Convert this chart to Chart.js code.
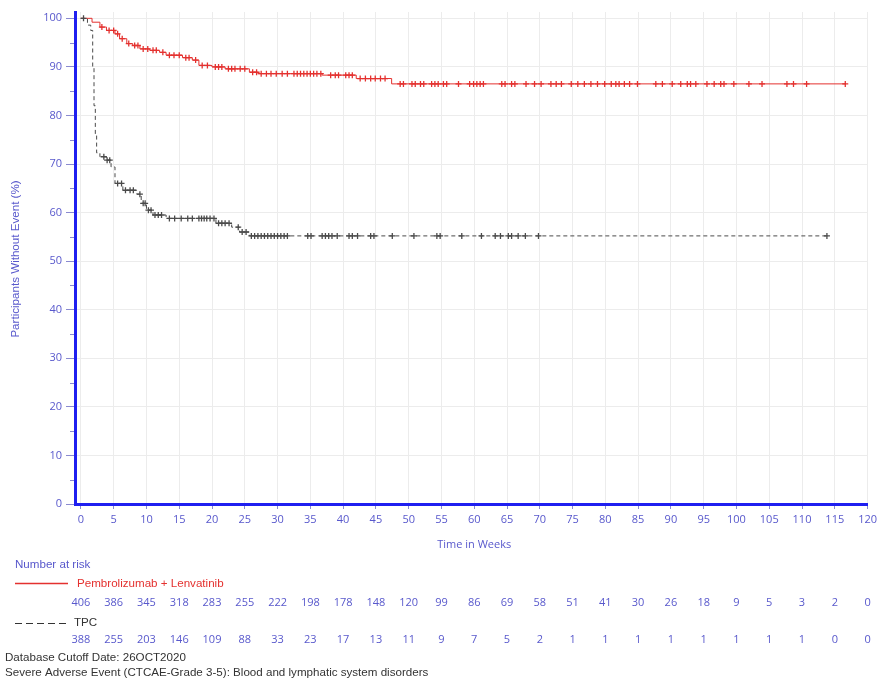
<!DOCTYPE html>
<html><head><meta charset="utf-8">
<script src="https://cdn.jsdelivr.net/npm/chart.js@4.4.1/dist/chart.umd.min.js"></script>
<style>html,body{margin:0;padding:0;background:#fff}#wrap{width:881px;height:680px;position:relative}</style>
</head><body><div id="wrap"><canvas id="c" width="881" height="680"></canvas></div>
<script>
// Kaplan-Meier step points (week, % without event)
const plTimes = [0, 1.7, 2.9, 3.9, 5.2, 5.9, 7.0, 7.9, 9.0, 10.5, 12.0, 13.0, 15.5, 17.0, 18.0, 20.0, 22.0, 25.7, 27.0, 36.8, 42.0, 47.4, 116.6];
const plSurv  = [100, 99.2, 98.2, 97.5, 96.8, 95.8, 94.8, 94.4, 93.7, 93.4, 93.0, 92.4, 91.9, 91.4, 90.3, 90.0, 89.6, 88.9, 88.6, 88.3, 87.6, 86.5, 86.5];
const tpcTimes = [0, 1.0, 1.5, 1.8, 2.0, 2.2, 2.4, 2.9, 3.9, 4.6, 5.2, 6.4, 8.5, 9.2, 10.0, 11.0, 13.0, 20.6, 23.0, 24.2, 25.7, 113.8];
const tpcSurv  = [100, 98.6, 97.5, 90, 82, 76, 72.3, 71.5, 70.8, 69.4, 66.0, 64.6, 63.8, 61.9, 60.5, 59.5, 58.8, 57.8, 57.0, 56.0, 55.2, 55.2];
// Censoring times (weeks)
const plCensor = [3.2, 4.3, 5.0, 5.6, 6.3, 7.3, 8.2, 8.7, 9.5, 10.2, 11.0, 11.5, 12.5, 13.5, 14.2, 15.0, 16.0, 16.5, 17.5, 18.5, 19.3, 20.5, 21.0, 21.5, 22.5, 23.0, 23.5, 24.3, 25.0, 26.2, 26.8, 27.5, 28.3, 29.0, 29.8, 30.7, 31.5, 32.5, 33.0, 33.5, 34.0, 34.5, 35.0, 35.5, 36.0, 36.6, 38.1, 38.8, 39.3, 40.4, 40.9, 41.4, 42.6, 43.4, 44.2, 44.9, 45.7, 46.4, 48.7, 49.2, 50.5, 51.0, 51.8, 52.3, 53.5, 54.0, 54.5, 55.3, 55.8, 57.6, 59.3, 59.9, 60.4, 60.9, 61.4, 64.2, 64.7, 65.7, 66.2, 67.9, 69.2, 70.2, 71.7, 72.5, 73.3, 74.8, 75.8, 76.8, 77.8, 78.8, 79.9, 80.9, 81.6, 82.1, 82.9, 83.7, 84.9, 87.7, 88.7, 90.2, 91.5, 92.5, 93.0, 93.8, 95.5, 96.6, 97.6, 98.1, 99.6, 101.9, 103.9, 107.7, 108.7, 110.7, 116.6];
const tpcCensor = [0.4, 3.5, 4.0, 4.4, 5.6, 6.2, 6.8, 7.5, 8.0, 9.0, 9.5, 9.8, 10.3, 10.7, 11.3, 11.8, 12.3, 13.5, 14.3, 15.3, 16.3, 17.0, 18.0, 18.4, 18.8, 19.2, 19.7, 20.3, 21.0, 21.5, 22.0, 22.6, 24.0, 24.6, 25.2, 26.0, 26.5, 27.0, 27.5, 28.0, 28.5, 29.0, 29.5, 30.0, 30.5, 31.0, 31.5, 34.6, 35.1, 36.8, 37.3, 37.8, 38.3, 39.1, 40.9, 41.4, 42.2, 44.2, 44.7, 47.5, 50.8, 54.3, 54.8, 58.1, 61.1, 63.2, 64.0, 65.2, 65.7, 66.7, 67.8, 69.8, 113.8];
// Axis ticks
const xTickValues = [0,5,10,15,20,25,30,35,40,45,50,55,60,65,70,75,80,85,90,95,100,105,110,115,120];
const yTickValues = [0,10,20,30,40,50,60,70,80,90,100];
// Number at risk
const riskPL  = [406,386,345,318,283,255,222,198,178,148,120,99,86,69,58,51,41,30,26,18,9,5,3,2,0];
const riskTPC = [388,255,203,146,109,88,33,23,17,13,11,9,7,5,2,1,1,1,1,1,1,1,1,0,0];
// Labels
const seriesNames = ['Pembrolizumab + Lenvatinib', 'TPC'];
const xTitle = 'Time in Weeks';
const yTitle = 'Participants Without Event (%)';
const riskTitle = 'Number at risk';
const footer = ['Database Cutoff Date: 26OCT2020', 'Severe Adverse Event (CTCAE-Grade 3-5): Blood and lymphatic system disorders'];

const RED = '#e4312f', BLACK = '#4a4a4a', BLUE = '#1f1ff0', TXT = '#5858cc';
const FONT = '"Open Sans", "DejaVu Sans", sans-serif';
const FONT2 = '"Liberation Sans", Arial, sans-serif';
const F2 = '11.6px ';

function stepPts(T, S) { return T.map((t, i) => ({x: t, y: S[i]})); }
function survAt(T, S, t) { let v = S[0]; for (let i = 0; i < T.length; i++) { if (T[i] <= t) v = S[i]; } return v; }
function censorPts(C, T, S) { return C.map(t => ({x: t, y: survAt(T, S, t)})); }

const extras = {
  id: 'extras',
  afterDraw(chart) {
    const ctx = chart.ctx, xs = chart.scales.x, ys = chart.scales.y;
    ctx.save();
    // minor y ticks
    ctx.strokeStyle = '#8a8ad0'; ctx.lineWidth = 1;
    for (let v = 5; v < 100; v += 10) {
      const py = Math.round(ys.getPixelForValue(v)) + 0.5;
      ctx.beginPath(); ctx.moveTo(chart.chartArea.left - 5, py); ctx.lineTo(chart.chartArea.left - 1, py); ctx.stroke();
    }
    ctx.font = '11px ' + FONT; ctx.textBaseline = 'middle';
    // x title
    ctx.fillStyle = TXT; ctx.textAlign = 'center';
    ctx.fillText(xTitle, (xs.getPixelForValue(55) + xs.getPixelForValue(65)) / 2, 545);
    // y title
    ctx.save(); ctx.font = F2 + FONT2; ctx.translate(16, 259); ctx.rotate(-Math.PI / 2); ctx.fillText(yTitle, 0, 0); ctx.restore();
    // at risk
    ctx.font = F2 + FONT2;
    ctx.textAlign = 'left'; ctx.fillStyle = TXT; ctx.fillText(riskTitle, 15, 565);
    ctx.strokeStyle = RED; ctx.lineWidth = 1.4;
    ctx.beginPath(); ctx.moveTo(15, 583.5); ctx.lineTo(68, 583.5); ctx.stroke();
    ctx.fillStyle = RED; ctx.fillText(seriesNames[0], 77, 584);
    ctx.strokeStyle = '#333'; ctx.lineWidth = 1.2; ctx.setLineDash([7, 4]);
    ctx.beginPath(); ctx.moveTo(15, 623.5); ctx.lineTo(70, 623.5); ctx.stroke();
    ctx.setLineDash([]);
    ctx.fillStyle = '#333'; ctx.fillText(seriesNames[1], 74, 623);
    ctx.font = '11px ' + FONT;
    ctx.fillStyle = TXT; ctx.textAlign = 'center';
    xTickValues.forEach((v, i) => {
      const px = xs.getPixelForValue(v);
      ctx.fillText(String(riskPL[i]), px, 603);
      ctx.fillText(String(riskTPC[i]), px, 640);
    });
    // footer
    ctx.font = F2 + FONT2;
    ctx.textAlign = 'left'; ctx.fillStyle = '#333';
    ctx.fillText(footer[0], 5, 658);
    ctx.fillText(footer[1], 5, 673);
    ctx.restore();
  }
};

new Chart(document.getElementById('c'), {
  type: 'scatter',
  data: {
    datasets: [
      {label: seriesNames[0], data: stepPts(plTimes, plSurv), showLine: true, stepped: true, borderColor: RED, borderWidth: 1, pointRadius: 0, order: 2},
      {label: seriesNames[1], data: stepPts(tpcTimes, tpcSurv), showLine: true, stepped: true, borderColor: BLACK, borderWidth: 1, borderDash: [4, 3], pointRadius: 0, order: 2},
      {label: 'pl-censor', data: censorPts(plCensor, plTimes, plSurv), showLine: false, pointStyle: 'cross', pointRadius: 3, borderColor: RED, borderWidth: 1.3, order: 1},
      {label: 'tpc-censor', data: censorPts(tpcCensor, tpcTimes, tpcSurv), showLine: false, pointStyle: 'cross', pointRadius: 3, borderColor: BLACK, borderWidth: 1.3, order: 1}
    ]
  },
  options: {
    responsive: false, animation: false, devicePixelRatio: 1,
    layout: {padding: {top: 12, right: 10, left: 0, bottom: 0}},
    plugins: {legend: {display: false}, tooltip: {enabled: false}},
    scales: {
      x: {
        type: 'linear', min: -0.9, max: 120,
        afterBuildTicks: s => { s.ticks = xTickValues.map(v => ({value: v})); },
        afterFit: s => { s.height = 176; },
        grid: {color: '#ececec', lineWidth: 1, tickLength: 5, tickColor: '#8a8ad0'},
        border: {color: BLUE, width: 3},
        ticks: {color: TXT, font: {family: FONT, size: 11}, padding: 4, maxRotation: 0, autoSkip: false}
      },
      y: {
        type: 'linear', min: 0, max: 101.3,
        afterBuildTicks: s => { s.ticks = yTickValues.map(v => ({value: v})); },
        afterFit: s => { s.width = 75; },
        grid: {color: '#ececec', lineWidth: 1, tickLength: 9, tickColor: '#8a8ad0'},
        border: {color: BLUE, width: 3},
        ticks: {color: TXT, font: {family: FONT, size: 11}, padding: 4}
      }
    }
  },
  plugins: [extras]
});
</script></body></html>
